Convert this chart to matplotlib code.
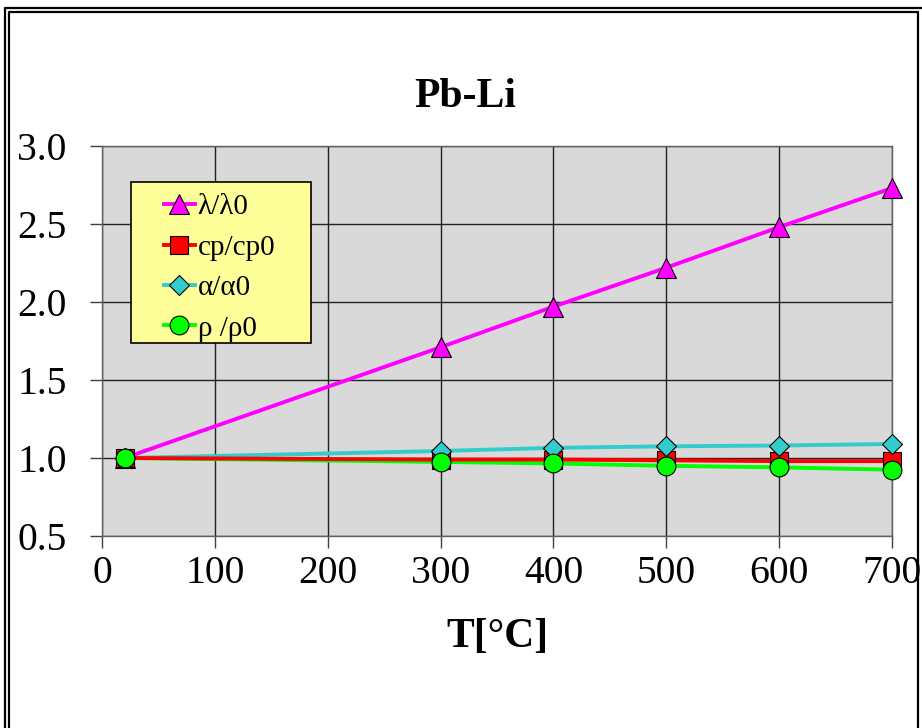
import matplotlib
matplotlib.use("Agg")
import matplotlib.pyplot as plt
from matplotlib.lines import Line2D
from matplotlib.patches import Rectangle

# Pb-Li property ratios relative to reference values at 20 °C
temperature = [20, 300, 400, 500, 600, 700]
lambda_ratio = [1.00, 1.71, 1.97, 2.22, 2.48, 2.73]
cp_ratio = [1.00, 0.99, 0.99, 0.985, 0.98, 0.98]
alpha_ratio = [1.00, 1.045, 1.065, 1.075, 1.08, 1.09]
rho_ratio = [1.00, 0.975, 0.965, 0.95, 0.94, 0.925]

labels = ["λ/λ0", "cp/cp0", "α/α0", "ρ /ρ0"]
x_ticks = [0, 100, 200, 300, 400, 500, 600, 700]
y_ticks = [0.5, 1.0, 1.5, 2.0, 2.5, 3.0]

plt.rcParams["font.family"] = ["Liberation Serif", "DejaVu Serif"]

W, H = 922, 728
fig = plt.figure(figsize=(W / 100, H / 100), dpi=100)
fig.patch.set_facecolor("white")

# plot area in pixel coordinates
left, right, top, bottom = 102, 892, 146, 536
ax = fig.add_axes([left / W, 1 - bottom / H, (right - left) / W, (bottom - top) / H])
ax.set_facecolor("#D9D9D9")

series = [
    (lambda_ratio, "#FF00FF", "^", 15),
    (cp_ratio, "#FF0000", "s", 13),
    (alpha_ratio, "#33CCCC", "D", 10),
    (rho_ratio, "#00FF00", "o", 13.5),
]

# connecting lines first (reverse order so the steep curve sits on top of the flat ones)
for (vals, col, mk, ms), z in zip(series, [5, 4, 3, 2]):
    ax.plot(temperature, vals, color=col, lw=2.8, zorder=z, solid_capstyle="butt")

handles = []
for i, (vals, col, mk, ms) in enumerate(series):
    ax.plot(temperature, vals, linestyle="none", marker=mk, markersize=ms,
            markerfacecolor=col, markeredgecolor="black", markeredgewidth=0.8,
            zorder=6 + i, clip_on=False)
    handles.append(Line2D([], [], color=col, lw=2.8, marker=mk, markersize=ms,
                          markerfacecolor=col, markeredgecolor="black",
                          markeredgewidth=0.8))

ax.set_xlim(0, 700)
ax.set_ylim(0.5, 3.0)
ax.set_xticks(x_ticks)
ax.set_yticks(y_ticks)
ax.set_yticklabels([f"{v:.1f}" for v in y_ticks])
ax.tick_params(axis="both", labelsize=28.5, length=8.5, width=1.0, color="#404040",
               direction="out")
ax.tick_params(axis="y", pad=17)
ax.tick_params(axis="x", pad=5)
ax.grid(True, color="#222222", linewidth=1.0)
ax.set_axisbelow(True)
for s in ax.spines.values():
    s.set_color("#606060")
    s.set_linewidth(1.0)

fig.text(465 / W, 1 - 97 / H, "Pb-Li", fontsize=30, fontweight="bold",
         ha="center", va="center")
fig.text(497 / W, 1 - 637 / H, "T[°C]", fontsize=30, fontweight="bold",
         ha="center", va="center")

# legend: yellow box drawn separately, entries placed inside it
box = Rectangle((131 / W, 1 - 343 / H), (311 - 131) / W, (343 - 182) / H,
                transform=fig.transFigure, facecolor="#FFFF99", edgecolor="black",
                linewidth=1.2, zorder=19)
fig.add_artist(box)
leg = fig.legend(handles, labels, loc="upper left",
                 bbox_to_anchor=(164 / W, 1 - 194 / H),
                 fontsize=21, frameon=False, handlelength=1.05,
                 handletextpad=0.1, labelspacing=0.48, borderpad=0.0,
                 borderaxespad=0.0)
leg.set_zorder(20)

# double frame around the whole figure
def px_line(xs, ys, lw):
    fig.add_artist(Line2D([x / W for x in xs], [1 - y / H for y in ys],
                          color="black", lw=lw, transform=fig.transFigure))

px_line([5, 5, 930], [740, 8, 8], 1.6)
px_line([9, 9, 918, 918], [740, 12, 12, 740], 1.6)

fig.savefig("out.png", dpi=100, facecolor="white")
